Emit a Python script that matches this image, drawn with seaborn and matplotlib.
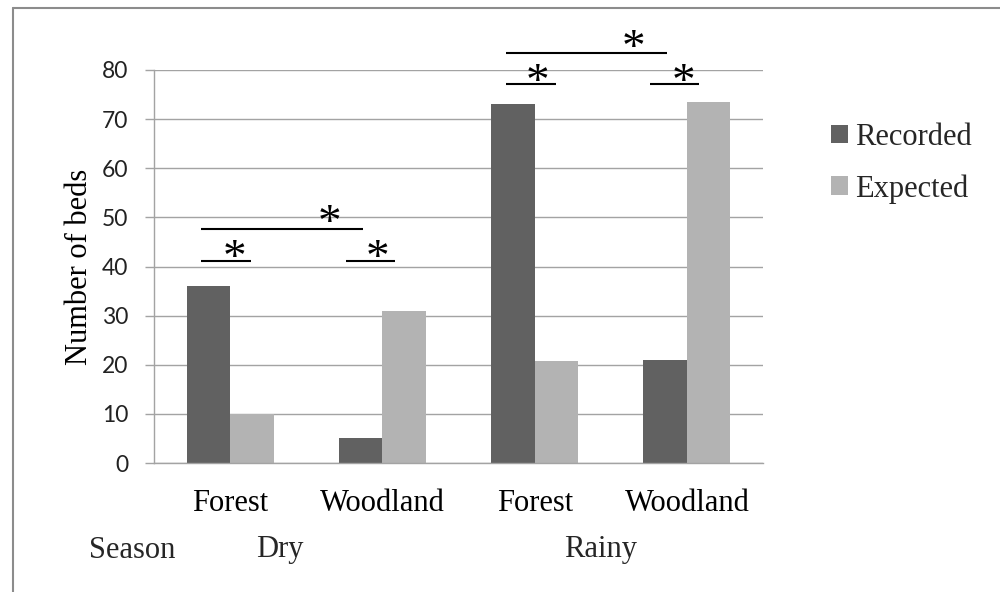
import matplotlib
matplotlib.use("Agg")
import matplotlib.pyplot as plt
import seaborn as sns
import pandas as pd
from matplotlib.patches import Patch
from matplotlib.lines import Line2D
import matplotlib.transforms as mtransforms

# ---------------- data ----------------
groups = ["Dry Forest", "Dry Woodland", "Rainy Forest", "Rainy Woodland"]
habitat_labels = ["Forest", "Woodland", "Forest", "Woodland"]
season_labels = ["Dry", "Rainy"]
series = ["Recorded", "Expected"]
recorded = [36, 5, 73, 21]
expected = [10, 31, 20.7, 73.5]
yticks = [0, 10, 20, 30, 40, 50, 60, 70, 80]

# significance brackets: (x_start, x_end, y) in data units
brackets_x0 = [-0.19, 0.76, -0.19, 1.81, 2.76, 1.81]
brackets_x1 = [0.14, 1.08, 0.875, 2.14, 3.08, 2.87]
brackets_y = [41.2, 41.2, 47.6, 77.1, 77.1, 83.5]
# asterisk centres
star_x = [0.03, 0.97, 0.65, 2.02, 2.98, 2.65]
star_y = [43.4, 43.4, 50.5, 79.3, 79.3, 86.1]

df = pd.DataFrame({
    "group": groups * 2,
    "beds": recorded + expected,
    "type": [series[0]] * 4 + [series[1]] * 4,
})

# ---------------- style ----------------
sns.set_theme(style="white")
serif = ["Liberation Serif", "DejaVu Serif"]
plt.rcParams["font.family"] = serif

colors = ["#616161", "#b3b3b3"]
grid_c = "#a3a3a3"

fig = plt.figure(figsize=(10, 5.92), dpi=100)
ax = fig.add_axes([0.154, 129 / 592, 0.609, 393 / 592])

sns.barplot(data=df, x="group", y="beds", hue="type", order=groups,
            hue_order=series, palette=colors, saturation=1, width=0.57,
            errorbar=None, ax=ax, legend=False, linewidth=0)

ax.set_xlim(-0.5, 3.5)
ax.set_ylim(0, 80)
ax.set_yticks(yticks)
ax.set_yticklabels([str(v) for v in yticks], family=["Lato", "DejaVu Sans"],
                   fontsize=16.5, color="#222222")
ax.yaxis.grid(True, color=grid_c, linewidth=1.0)
ax.set_axisbelow(True)
ax.tick_params(axis="y", length=6.5, width=1.0, color=grid_c, pad=12, left=True)
ax.tick_params(axis="x", length=0, pad=19)
ax.set_xticks(range(len(groups)))
ax.set_xticklabels(habitat_labels, fontsize=22, color="black")
ax.set_xlabel("")
ax.set_ylabel("Number of beds", fontsize=22, color="black")
ax.yaxis.set_label_coords(-0.0985, 0.5)

for s in ["top", "right"]:
    ax.spines[s].set_visible(False)
for s in ["left", "bottom"]:
    ax.spines[s].set_color(grid_c)
    ax.spines[s].set_linewidth(1.0)

# season row
trans = mtransforms.blended_transform_factory(ax.transData, fig.transFigure)
season_y = 1 - 550 / 592
ax.text(-0.645, season_y, "Season", transform=trans, ha="center", va="center",
        fontsize=22, clip_on=False)
ax.text(0.328, season_y, season_labels[0], transform=trans, ha="center",
        va="center", fontsize=22, clip_on=False)
ax.text(2.43, season_y, season_labels[1], transform=trans, ha="center",
        va="center", fontsize=22, clip_on=False)

# significance marks
for x0, x1, y in zip(brackets_x0, brackets_x1, brackets_y):
    ax.plot([x0, x1], [y, y], color="black", linewidth=1.5, clip_on=False,
            solid_capstyle="butt")
for x, y in zip(star_x, star_y):
    ax.text(x, y - 4.3, "*", ha="center", va="baseline", fontsize=34,
            color="black", clip_on=False)

# legend
handles = [Patch(facecolor=c, edgecolor="none") for c in colors]
fig.legend(handles, series, loc="upper left",
           bbox_to_anchor=(831 / 1000, 1 - 123 / 592), frameon=False,
           fontsize=22, handlelength=0.55, handleheight=0.55,
           handletextpad=0.25, labelspacing=0.72, borderaxespad=0,
           borderpad=0)

# figure border (left and top edges visible)
yb = 1 - 7.5 / 592
xb = 12.5 / 1000
fig.add_artist(Line2D([xb, xb], [0, yb], transform=fig.transFigure,
                      color="#8c8c8c", linewidth=1.5))
fig.add_artist(Line2D([xb, 1], [yb, yb], transform=fig.transFigure,
                      color="#8c8c8c", linewidth=1.5))

fig.savefig("out.png", dpi=100)
